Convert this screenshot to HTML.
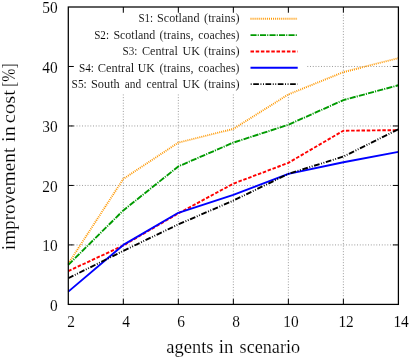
<!DOCTYPE html>
<html><head><meta charset="utf-8"><title>plot</title>
<style>
html,body{margin:0;padding:0;background:#fff;}
body{width:414px;height:358px;overflow:hidden;font-family:"Liberation Serif",serif;}
svg{display:block;will-change:transform;}
text{font-family:"Liberation Serif",serif;fill:#000;stroke:#fff;stroke-width:0.3px;}
.tk{stroke-width:0.1px;}
.ax{stroke-width:0.15px;}
.lg text{stroke-width:0.1px;}
</style></head><body>
<svg width="414" height="358" viewBox="0 0 414 358">
<rect width="414" height="358" fill="#fff"/>
<g fill="none" stroke="#8c8c8c" stroke-width="0.9" stroke-dasharray="0.95 1.8"><path d="M68.3 244.92H398.4"/><path d="M68.3 185.44H398.4"/><path d="M68.3 125.96H398.4"/><path d="M307.3 66.48H398.4"/><path d="M123.32 304.4V94.5M123.32 13V7.0"/><path d="M178.33 304.4V94.5M178.33 13V7.0"/><path d="M233.35 304.4V94.5M233.35 13V7.0"/><path d="M288.37 304.4V94.5M288.37 13V7.0"/><path d="M343.38 304.4V7.0"/></g>
<path d="M68.3 244.92h5.5M398.4 244.92h-5.5M68.3 185.44h5.5M398.4 185.44h-5.5M68.3 125.96h5.5M398.4 125.96h-5.5M68.3 66.48h5.5M398.4 66.48h-5.5M123.32 304.4v-5.5M123.32 7.0v5.5M178.33 304.4v-5.5M178.33 7.0v5.5M233.35 304.4v-5.5M233.35 7.0v5.5M288.37 304.4v-5.5M288.37 7.0v5.5M343.38 304.4v-5.5M343.38 7.0v5.5" fill="none" stroke="#000" stroke-width="1"/>
<polyline points="68.30,263.66 123.32,178.90 178.33,142.61 233.35,128.93 288.37,94.44 343.38,72.13 398.40,58.15" fill="none" stroke="#ff9800" stroke-width="1.9" stroke-linejoin="round" stroke-dasharray="1.0 1.05"/>
<polyline points="68.30,264.85 123.32,210.42 178.33,166.41 233.35,142.61 288.37,124.77 343.38,100.09 398.40,85.22" fill="none" stroke="#009a00" stroke-width="1.9" stroke-linejoin="round" stroke-dasharray="6.1 1.1 1.1 1.2"/>
<polyline points="68.30,271.09 123.32,245.51 178.33,213.40 233.35,183.66 288.37,162.84 343.38,130.72 398.40,130.12" fill="none" stroke="#ff0000" stroke-width="1.9" stroke-linejoin="round" stroke-dasharray="3.5 1.7"/>
<polyline points="68.30,291.61 123.32,244.92 178.33,212.80 233.35,194.96 288.37,173.84 343.38,162.24 398.40,151.83" fill="none" stroke="#0000ff" stroke-width="1.9" stroke-linejoin="round"/>
<polyline points="68.30,278.23 123.32,250.87 178.33,224.40 233.35,200.61 288.37,173.84 343.38,156.59 398.40,129.23" fill="none" stroke="#000000" stroke-width="1.9" stroke-linejoin="round" stroke-dasharray="5.7 1.6 0.9 1.6 0.9 1.6"/>
<path d="M250.5 18.8H297.7" fill="none" stroke="#ff9800" stroke-width="1.9" stroke-dasharray="1.0 1.05"/>
<path d="M250.5 35.1H297.7" fill="none" stroke="#009a00" stroke-width="1.9" stroke-dasharray="6.1 1.1 1.1 1.2"/>
<path d="M250.5 51.5H297.7" fill="none" stroke="#ff0000" stroke-width="1.9" stroke-dasharray="3.5 1.7"/>
<path d="M250.5 67.8H297.7" fill="none" stroke="#0000ff" stroke-width="1.9"/>
<path d="M250.5 84.1H297.7" fill="none" stroke="#000000" stroke-width="1.9" stroke-dasharray="5.7 1.6 0.9 1.6 0.9 1.6" stroke-dashoffset="9.6"/>
<rect x="68.3" y="7.0" width="330.10" height="297.40" fill="none" stroke="#000" stroke-width="1.25"/>
<g font-size="12" class="lg"><text x="138.4" y="22.3" textLength="14.7" lengthAdjust="spacingAndGlyphs">S1:</text><text x="157.0" y="22.3" textLength="42.5" lengthAdjust="spacingAndGlyphs">Scotland</text><text x="204.1" y="22.3" textLength="35.4" lengthAdjust="spacingAndGlyphs">(trains)</text></g>
<g font-size="12" class="lg"><text x="94.2" y="38.7" textLength="14.8" lengthAdjust="spacingAndGlyphs">S2:</text><text x="113.4" y="38.7" textLength="41.9" lengthAdjust="spacingAndGlyphs">Scotland</text><text x="159.6" y="38.7" textLength="33.8" lengthAdjust="spacingAndGlyphs">(trains,</text><text x="198.3" y="38.7" textLength="41.2" lengthAdjust="spacingAndGlyphs">coaches)</text></g>
<g font-size="12" class="lg"><text x="122.5" y="55.1" textLength="14.9" lengthAdjust="spacingAndGlyphs">S3:</text><text x="142.0" y="55.1" textLength="35.8" lengthAdjust="spacingAndGlyphs">Central</text><text x="182.6" y="55.1" textLength="17.4" lengthAdjust="spacingAndGlyphs">UK</text><text x="204.1" y="55.1" textLength="35.4" lengthAdjust="spacingAndGlyphs">(trains)</text></g>
<g font-size="12" class="lg"><text x="79.0" y="71.5" textLength="15.0" lengthAdjust="spacingAndGlyphs">S4:</text><text x="97.7" y="71.5" textLength="36.5" lengthAdjust="spacingAndGlyphs">Central</text><text x="137.7" y="71.5" textLength="16.9" lengthAdjust="spacingAndGlyphs">UK</text><text x="159.6" y="71.5" textLength="33.8" lengthAdjust="spacingAndGlyphs">(trains,</text><text x="198.3" y="71.5" textLength="41.2" lengthAdjust="spacingAndGlyphs">coaches)</text></g>
<g font-size="12" class="lg"><text x="71.6" y="87.9" textLength="15.2" lengthAdjust="spacingAndGlyphs">S5:</text><text x="91.0" y="87.9" textLength="28.8" lengthAdjust="spacingAndGlyphs">South</text><text x="124.7" y="87.9" textLength="16.4" lengthAdjust="spacingAndGlyphs">and</text><text x="146.6" y="87.9" textLength="31.2" lengthAdjust="spacingAndGlyphs">central</text><text x="182.6" y="87.9" textLength="17.4" lengthAdjust="spacingAndGlyphs">UK</text><text x="204.1" y="87.9" textLength="35.4" lengthAdjust="spacingAndGlyphs">(trains)</text></g>
<text x="57.6" y="310.60" font-size="16.5" class="tk" text-anchor="end" textLength="7.70" lengthAdjust="spacingAndGlyphs">0</text>
<text x="57.6" y="251.12" font-size="16.5" class="tk" text-anchor="end" textLength="15.40" lengthAdjust="spacingAndGlyphs">10</text>
<text x="57.6" y="191.64" font-size="16.5" class="tk" text-anchor="end" textLength="15.40" lengthAdjust="spacingAndGlyphs">20</text>
<text x="57.6" y="132.16" font-size="16.5" class="tk" text-anchor="end" textLength="15.40" lengthAdjust="spacingAndGlyphs">30</text>
<text x="57.6" y="72.68" font-size="16.5" class="tk" text-anchor="end" textLength="15.40" lengthAdjust="spacingAndGlyphs">40</text>
<text x="57.6" y="13.20" font-size="16.5" class="tk" text-anchor="end" textLength="15.40" lengthAdjust="spacingAndGlyphs">50</text>
<text x="71.00" y="326.7" font-size="16.5" class="tk" text-anchor="middle" textLength="7.70" lengthAdjust="spacingAndGlyphs">2</text>
<text x="126.02" y="326.7" font-size="16.5" class="tk" text-anchor="middle" textLength="7.70" lengthAdjust="spacingAndGlyphs">4</text>
<text x="181.03" y="326.7" font-size="16.5" class="tk" text-anchor="middle" textLength="7.70" lengthAdjust="spacingAndGlyphs">6</text>
<text x="236.05" y="326.7" font-size="16.5" class="tk" text-anchor="middle" textLength="7.70" lengthAdjust="spacingAndGlyphs">8</text>
<text x="291.07" y="326.7" font-size="16.5" class="tk" text-anchor="middle" textLength="15.40" lengthAdjust="spacingAndGlyphs">10</text>
<text x="346.08" y="326.7" font-size="16.5" class="tk" text-anchor="middle" textLength="15.40" lengthAdjust="spacingAndGlyphs">12</text>
<text x="401.10" y="326.7" font-size="16.5" class="tk" text-anchor="middle" textLength="15.40" lengthAdjust="spacingAndGlyphs">14</text>
<text x="166.30" y="353" font-size="18" class="ax" textLength="47.20" lengthAdjust="spacingAndGlyphs">agents</text>
<text x="218.80" y="353" font-size="18" class="ax" textLength="14.60" lengthAdjust="spacingAndGlyphs">in</text>
<text x="239.60" y="353" font-size="18" class="ax" textLength="60.50" lengthAdjust="spacingAndGlyphs">scenario</text>
<g transform="translate(14.9 249.8) rotate(-90)"><text x="-0.40" y="0" font-size="18" class="ax" textLength="102.50" lengthAdjust="spacingAndGlyphs">improvement</text><text x="107.90" y="0" font-size="18" class="ax" textLength="15.80" lengthAdjust="spacingAndGlyphs">in</text><text x="126.60" y="0" font-size="18" class="ax" textLength="33.20" lengthAdjust="spacingAndGlyphs">cost</text><text x="162.90" y="0" font-size="18" class="ax" textLength="23.60" lengthAdjust="spacingAndGlyphs">[%]</text></g>
</svg></body></html>
